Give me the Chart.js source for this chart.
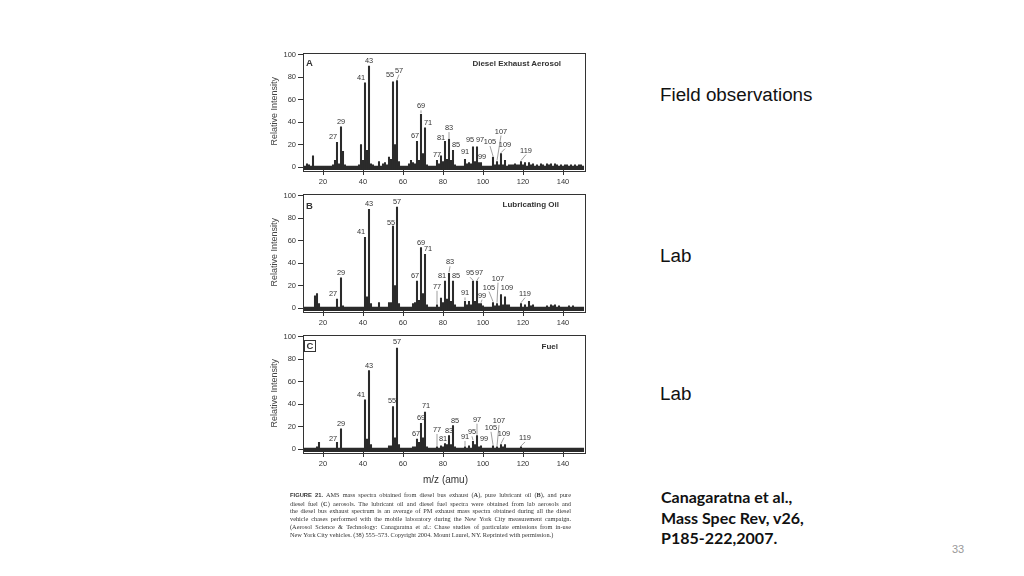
<!DOCTYPE html>
<html>
<head>
<meta charset="utf-8">
<script src="https://cdn.jsdelivr.net/npm/chart.js@4/dist/chart.umd.min.js"></script>
<style>
  body { margin: 0; width: 1024px; height: 576px; background: #fff; position: relative; overflow: hidden;
         font-family: Arial, "Liberation Sans", sans-serif; color: #222; }
  canvas.spec { position: absolute; left: 269px; }
  .t { position: absolute; white-space: nowrap; line-height: 1; }
  .ptitle { font-weight: bold; font-size: 8px; color: #333; }
  .letter { font-weight: bold; font-size: 9.5px; color: #333; }
  .side { font-size: 18.8px; color: #111; left: 660px; }
  .cite { font-family: Lato, "Open Sans", sans-serif; font-weight: bold; font-size: 16px; left: 661px; color: #111; }
  #caption { position: absolute; left: 290px; top: 491px; width: 281px;
             font-family: "Liberation Serif", "Times New Roman", serif; font-size: 6.3px; line-height: 7.7px; color: #333; }
  #caption div { text-align: justify; text-align-last: justify; white-space: nowrap; }
  #caption div.last { text-align-last: left; }
</style>
</head>
<body>

<canvas id="specA" class="spec" width="323" height="144" style="top:46px"></canvas>
<canvas id="specB" class="spec" width="323" height="144" style="top:187px"></canvas>
<canvas id="specC" class="spec" width="323" height="144" style="top:328px"></canvas>

<div class="t letter" style="left:306px;top:58px">A</div>
<div class="t ptitle" style="right:463px;top:60px">Diesel Exhaust Aerosol</div>
<div class="t letter" style="left:306px;top:201px">B</div>
<div class="t ptitle" style="right:465px;top:201px">Lubricating Oil</div>
<div class="t letter" style="left:304px;top:340px;width:10px;height:10px;border:1px solid #333;text-align:center;line-height:10px">C</div>
<div class="t ptitle" style="right:466px;top:343px">Fuel</div>

<div class="t" style="left:423px;top:475px;font-size:10px;color:#333">m/z (amu)</div>

<div id="caption">
  <div><b style="font-family:Arial,'Liberation Sans',sans-serif;font-size:5.8px">FIGURE 21.</b> AMS mass spectra obtained from diesel bus exhaust (<b>A</b>), pure lubricant oil (<b>B</b>), and pure</div>
  <div>diesel fuel (<b>C</b>) aerosols. The lubricant oil and diesel fuel spectra were obtained from lab aerosols and</div>
  <div>the diesel bus exhaust spectrum is an average of PM exhaust mass spectra obtained during all the diesel</div>
  <div>vehicle chases performed with the mobile laboratory during the New York City measurement campaign.</div>
  <div>(Aerosol Science &amp; Technology: Canagaratna et al.: Chase studies of particulate emissions from in-use</div>
  <div class="last">New York City vehicles. (38) 555–573. Copyright 2004. Mount Laurel, NY. Reprinted with permission.)</div>
</div>

<div class="t side" style="top:86px">Field observations</div>
<div class="t side" style="top:247px">Lab</div>
<div class="t side" style="top:385px">Lab</div>

<div class="t cite" style="top:489px">Canagaratna et al.,</div>
<div class="t cite" style="top:510px">Mass Spec Rev, v26,</div>
<div class="t cite" style="top:530px">P185-222,2007.</div>
<div class="t" style="left:952px;top:544px;font-size:11px;color:#999">33</div>

<script>
const fontFamily = 'Arial, "Liberation Sans", sans-serif';

// m/z axis (amu)
const mz = [
  10, 11, 12, 13, 14, 15, 16, 17, 18, 19, 20, 21, 22, 23, 24, 25, 26, 27, 28, 29,
  30, 31, 32, 33, 34, 35, 36, 37, 38, 39, 40, 41, 42, 43, 44, 45, 46, 47, 48, 49,
  50, 51, 52, 53, 54, 55, 56, 57, 58, 59, 60, 61, 62, 63, 64, 65, 66, 67, 68, 69,
  70, 71, 72, 73, 74, 75, 76, 77, 78, 79, 80, 81, 82, 83, 84, 85, 86, 87, 88, 89,
  90, 91, 92, 93, 94, 95, 96, 97, 98, 99, 100, 101, 102, 103, 104, 105, 106, 107, 108, 109,
  110, 111, 112, 113, 114, 115, 116, 117, 118, 119, 120, 121, 122, 123, 124, 125, 126, 127, 128, 129,
  130, 131, 132, 133, 134, 135, 136, 137, 138, 139, 140, 141, 142, 143, 144, 145, 146, 147, 148, 149, 150
];

// relative intensities, one per m/z above
const dieselExhaust = [
  1, 1, 3, 2, 1, 10, 1, 1, 1, 1,
  1, 1, 1, 1, 1, 2, 6, 22, 3, 36,
  14, 2, 1, 1, 1, 1, 1, 1, 2, 20,
  6, 75, 15, 90, 3, 2, 1, 1, 5, 1,
  3, 4, 2, 9, 7, 76, 20, 77, 5, 1,
  1, 1, 1, 3, 6, 4, 3, 23, 6, 47,
  12, 35, 2, 1, 1, 1, 1, 6, 3, 10,
  5, 23, 7, 25, 6, 15, 2, 1, 1, 1,
  1, 7, 3, 4, 3, 18, 5, 18, 4, 4,
  1, 1, 1, 1, 1, 9, 2, 5, 2, 12,
  2, 6, 1, 2, 2, 2, 3, 2, 2, 5,
  2, 4, 1, 4, 2, 3, 1, 2, 1, 3,
  2, 1, 3, 2, 3, 1, 3, 2, 1, 2,
  1, 2, 2, 1, 2, 1, 2, 1, 2, 2, 1
];
const lubricatingOil = [
  1, 1, 1, 1, 1, 1, 11, 13, 4, 1,
  1, 1, 1, 1, 1, 1, 1, 8, 1, 27,
  2, 1, 1, 1, 1, 1, 1, 1, 1, 1,
  1, 63, 10, 88, 4, 1, 1, 1, 5, 1,
  1, 1, 1, 5, 5, 73, 20, 90, 4, 1,
  1, 1, 1, 1, 1, 4, 5, 24, 7, 54,
  13, 48, 3, 1, 1, 1, 1, 3, 1, 9,
  5, 24, 8, 31, 6, 24, 3, 1, 1, 1,
  1, 6, 3, 6, 3, 24, 6, 24, 4, 4,
  2, 1, 1, 1, 1, 5, 2, 4, 2, 12,
  3, 10, 3, 3, 1, 1, 1, 1, 1, 4,
  1, 3, 1, 6, 2, 3, 1, 1, 1, 1,
  1, 1, 2, 1, 3, 2, 3, 1, 2, 1,
  1, 1, 1, 2, 1, 2, 1, 1, 1, 1, 1
];
const dieselFuel = [
  1, 1, 1, 1, 1, 1, 1, 2, 6, 1,
  1, 1, 1, 1, 1, 1, 1, 6, 1, 18,
  1, 1, 1, 1, 1, 1, 1, 1, 1, 1,
  1, 44, 9, 70, 4, 1, 1, 1, 1, 1,
  1, 1, 1, 3, 3, 38, 10, 90, 4, 1,
  1, 1, 1, 1, 1, 2, 2, 9, 6, 23,
  10, 33, 2, 1, 1, 1, 1, 2, 1, 3,
  2, 5, 4, 12, 4, 21, 2, 1, 1, 1,
  1, 2, 1, 3, 1, 7, 4, 12, 2, 3,
  1, 1, 1, 1, 1, 3, 1, 2, 1, 4,
  2, 4, 1, 1, 1, 1, 1, 1, 1, 2,
  1, 1, 1, 1, 1, 1, 1, 1, 1, 1,
  1, 1, 1, 1, 1, 1, 1, 1, 1, 1,
  1, 1, 1, 1, 1, 1, 1, 1, 1, 1, 1
];

const xTicks = [20, 40, 60, 80, 100, 120, 140];
const yTicks = [0, 20, 40, 60, 80, 100];
const peakLabels = [27, 29, 41, 43, 55, 57, 67, 69, 71, 77, 81, 83, 85, 91, 95, 97, 99, 105, 107, 109, 119];

// label placement per panel: [dx, lift] for each peak label (lift >= 3 gets a leader line)
const shiftA = [[-4,0],[0,0],[-4,0],[0,0],[-3,2],[2,5],[-2,0],[0,3],[3,0],[0,0],[-4,-2],[0,6],[3,0],[0,2],[-3,2],[3,2],[1,1],[-3,10],[4,25],[4,4],[5,6]];
const shiftB = [[-4,0],[0,0],[-4,0],[0,0],[-2,-2],[0,0],[-2,0],[0,0],[3,0],[0,13],[-3,0],[1,6],[3,0],[0,3],[-3,3],[2,3],[1,3],[-4,10],[1,20],[6,2],[4,5]];
const shiftC = [[-4,-2],[0,0],[-4,0],[0,0],[-1,0],[0,1],[-1,0],[0,0],[1,1],[0,12],[-2,0],[0,0],[2,0],[0,5],[-1,4],[0,11],[3,2],[-2,13],[2,21],[3,6],[4,4]];

const yMin = -2.5;

const framePlugin = {
  id: "frame",
  afterDraw(chart) {
    const a = chart.chartArea, ctx = chart.ctx;
    ctx.save();
    ctx.strokeStyle = "#333";
    ctx.lineWidth = 1;
    ctx.strokeRect(Math.round(a.left) + 0.5, Math.round(a.top) + 0.5, Math.round(a.right - a.left), Math.round(a.bottom - a.top));
    ctx.restore();
  }
};

const peakLabelPlugin = {
  id: "peakLabels",
  afterDatasetsDraw(chart, args, opts) {
    const ctx = chart.ctx, xs = chart.scales.x, ys = chart.scales.y;
    const vals = chart.data.datasets[0].data;
    ctx.save();
    ctx.font = "7.4px " + fontFamily;
    ctx.fillStyle = "#333";
    ctx.strokeStyle = "#777";
    ctx.lineWidth = 0.7;
    ctx.textAlign = "center";
    ctx.textBaseline = "middle";
    peakLabels.forEach((m, i) => {
      const [dx, lift] = opts.shift[i];
      const v = vals[mz.indexOf(m)];
      const bx = xs.getPixelForValue(m), by = ys.getPixelForValue(v);
      const tx = bx + dx, ty = by - 5 - lift;
      if (lift >= 3) {
        ctx.beginPath();
        ctx.moveTo(bx, by - 1);
        ctx.lineTo(tx, ty + 4);
        ctx.stroke();
      }
      ctx.fillText(String(m), tx, ty);
    });
    ctx.restore();
  }
};

const makeSpectrum = (id, values, shift) => {
  const ctx = document.getElementById(id);
  const tickFont = { family: fontFamily, size: 7.5 };
  return new Chart(ctx, {
    type: "bar",
    data: {
      labels: mz,
      datasets: [{
        data: values,
        backgroundColor: "#2b2b2b",
        barThickness: 1.4,
        base: yMin
      }]
    },
    options: {
      responsive: false,
      animation: false,
      layout: { padding: { top: 6, right: 7, left: 0, bottom: 0 } },
      plugins: {
        legend: { display: false },
        tooltip: { enabled: false },
        peakLabels: { shift: shift }
      },
      scales: {
        x: {
          type: "linear",
          min: 10,
          max: 151,
          offset: false,
          afterBuildTicks: (s) => { s.ticks = xTicks.map(v => ({ value: v })); },
          afterFit: (s) => { s.height = 20; },
          grid: { offset: false, drawOnChartArea: false, drawTicks: true, tickLength: 5, color: "#333" },
          border: { display: false },
          ticks: { font: tickFont, color: "#333", padding: 2, maxRotation: 0, autoSkip: false }
        },
        y: {
          min: yMin,
          max: 102,
          afterBuildTicks: (s) => { s.ticks = yTicks.map(v => ({ value: v })); },
          afterFit: (s) => { s.width = 34; },
          grid: { drawOnChartArea: false, drawTicks: true, tickLength: 5, color: "#333" },
          border: { display: false },
          title: { display: true, text: "Relative Intensity", color: "#444", font: { family: fontFamily, size: 9 }, padding: 0 },
          ticks: { font: tickFont, color: "#333", padding: 2 }
        }
      }
    },
    plugins: [framePlugin, peakLabelPlugin]
  });
};

makeSpectrum("specA", dieselExhaust, shiftA);
makeSpectrum("specB", lubricatingOil, shiftB);
makeSpectrum("specC", dieselFuel, shiftC);
</script>
</body>
</html>
